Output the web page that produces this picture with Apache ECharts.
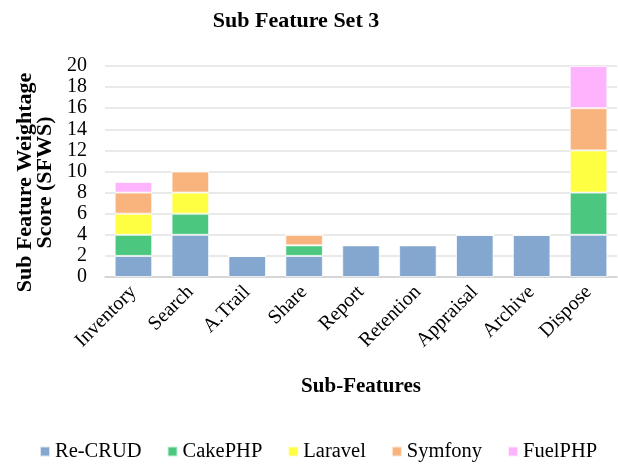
<!DOCTYPE html>
<html>
<head>
<meta charset="utf-8">
<script src="https://cdn.jsdelivr.net/npm/echarts@6/dist/echarts.min.js"></script>
<style>
  html, body { margin: 0; padding: 0; background: #fff; }
  #chart { width: 618px; height: 464px; }
</style>
</head>
<body>
<div id="chart"></div>
<script>
const categories = ['Inventory', 'Search', 'A.Trail', 'Share', 'Report', 'Retention', 'Appraisal', 'Archive', 'Dispose']
const seriesNames = ['Re-CRUD', 'CakePHP', 'Laravel', 'Symfony', 'FuelPHP']
const reCrud = [2, 4, 2, 2, 3, 3, 4, 4, 4]
const cakePhp = [2, 2, 0, 1, 0, 0, 0, 0, 4]
const laravel = [2, 2, 0, 0, 0, 0, 0, 0, 4]
const symfony = [2, 2, 0, 1, 0, 0, 0, 0, 4]
const fuelPhp = [1, 0, 0, 0, 0, 0, 0, 0, 4]
const yTicks = [0, 2, 4, 6, 8, 10, 12, 14, 16, 18, 20]

const colors = ['#84a7cf', '#4bc780', '#fefe42', '#f8b47c', '#fdb4fd']
const seriesData = [reCrud, cakePhp, laravel, symfony, fuelPhp]
const font = '"Liberation Serif", "Times New Roman", serif'

const chart = echarts.init(document.getElementById('chart'))

const series = seriesNames.map((name, i) => ({
  name,
  type: 'bar',
  stack: 'total',
  barCategoryGap: '34%',
  itemStyle: { color: colors[i], borderColor: 'rgba(255,255,255,0.7)', borderWidth: 1 },
  data: seriesData[i]
}))

chart.setOption({
  animation: false,
  backgroundColor: '#fff',
  title: {
    text: 'Sub Feature Set 3',
    left: 291,
    top: 5,
    textAlign: 'center',
    textStyle: { fontFamily: font, fontWeight: 'bold', fontSize: 22, color: '#000' }
  },
  legend: {
    data: seriesNames,
    top: 436,
    left: 34,
    icon: 'rect',
    itemWidth: 10,
    itemHeight: 10,
    itemGap: 25,
    textStyle: { fontFamily: font, fontSize: 20.5, color: '#000' }
  },
  grid: { left: 105, right: 1, top: 66, bottom: 187 },
  xAxis: {
    type: 'category',
    data: categories,
    name: 'Sub-Features',
    nameLocation: 'middle',
    nameGap: 99,
    nameTextStyle: { fontFamily: font, fontWeight: 'bold', fontSize: 21, color: '#000' },
    axisTick: { show: false },
    axisLine: { lineStyle: { color: '#d0d0d0', width: 1.5 } },
    axisLabel: { rotate: 45, interval: 0, margin: 12, fontFamily: font, fontSize: 20, color: '#000' }
  },
  yAxis: {
    type: 'value',
    min: yTicks[0],
    max: yTicks[yTicks.length - 1],
    interval: 2,
    name: 'Sub Feature Weightage\nScore (SFWS)',
    nameLocation: 'middle',
    nameGap: 46,
    nameTextStyle: {
      fontFamily: font, fontWeight: 'bold', fontSize: 22, color: '#000',
      lineHeight: 20, padding: [0, 22, 0, 0]
    },
    axisLine: { show: false },
    axisTick: { show: false },
    axisLabel: { margin: 18, fontFamily: font, fontSize: 20, color: '#000' },
    splitLine: { lineStyle: { color: '#e2e2e2', width: 1.5 } }
  },
  series
})
</script>
</body>
</html>
